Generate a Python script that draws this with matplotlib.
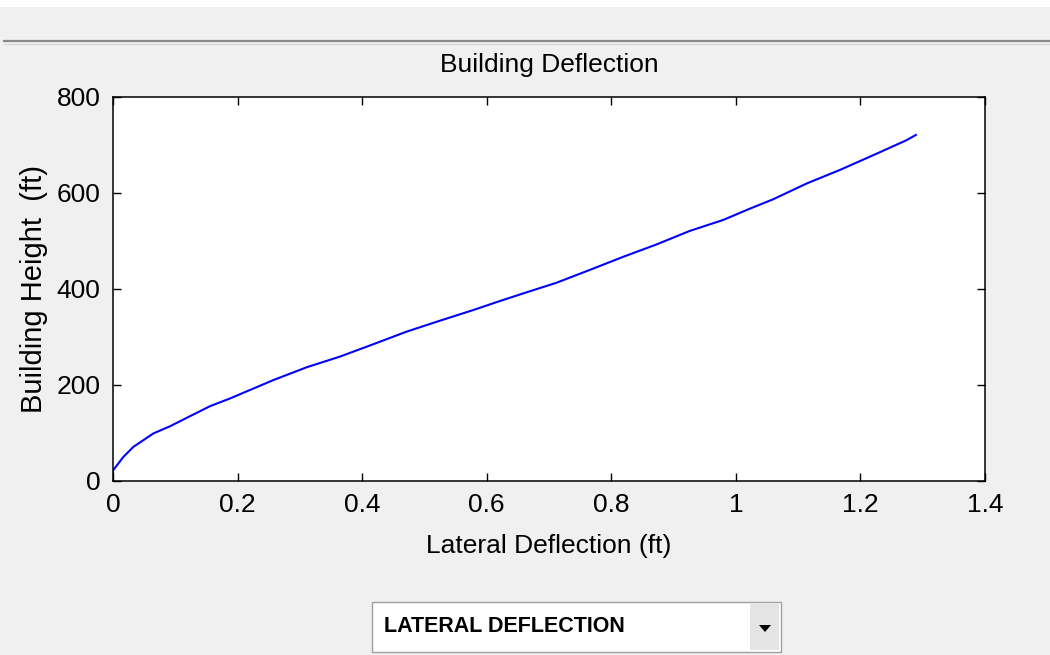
import matplotlib
matplotlib.use('Agg')
import matplotlib.pyplot as plt
from matplotlib.patches import Rectangle, Polygon
from matplotlib.lines import Line2D

# Datos
deflection = [0.0, 0.0, 0.0165, 0.0326, 0.0487, 0.0647, 0.0915, 0.1236, 0.156, 0.188,
              0.217, 0.257, 0.311, 0.364, 0.418, 0.471, 0.525, 0.578, 0.619, 0.659,
              0.712, 0.766, 0.819, 0.873, 0.926, 0.980, 1.020, 1.060, 1.114, 1.167,
              1.221, 1.274, 1.289]
height = [0, 22, 50, 71, 85, 99, 114, 135, 156, 172,
          188, 210, 237, 259, 285, 311, 334, 356, 374, 391,
          413, 440, 467, 493, 521, 544, 566, 587, 620, 648,
          679, 710, 721]
xticks = [0, 0.2, 0.4, 0.6, 0.8, 1, 1.2, 1.4]
xticklabels = ['0', '0.2', '0.4', '0.6', '0.8', '1', '1.2', '1.4']
yticks = [0, 200, 400, 600, 800]

plt.rcParams['font.family'] = ['Liberation Sans', 'DejaVu Sans']

bg = '#f0f0f0'
fig = plt.figure(figsize=(10.5, 6.55), dpi=100, facecolor=bg)

# franja superior y linea separadora
fig.patches.append(Rectangle((0, 1 - 7 / 655), 1, 7 / 655, transform=fig.transFigure,
                             facecolor='white', edgecolor='none'))
fig.lines.append(Line2D([4 / 1050, 1], [1 - 41 / 655] * 2, transform=fig.transFigure,
                        color='#8a8a8a', lw=1.6))
fig.lines.append(Line2D([4 / 1050, 1], [1 - 43.5 / 655] * 2, transform=fig.transFigure,
                        color='#d8d8d8', lw=1.0))

ax = fig.add_axes([113 / 1050, 1 - 481 / 655, 872 / 1050, 384 / 655])
ax.plot(deflection, height, color='#0000ff', lw=1.5)
ax.set_xlim(0, 1.4)
ax.set_ylim(0, 800)
ax.set_xticks(xticks)
ax.set_xticklabels(xticklabels)
ax.set_yticks(yticks)
ax.tick_params(direction='in', length=6, width=1, top=True, right=True,
               labelsize=19, pad=9, colors='black')
for s in ax.spines.values():
    s.set_linewidth(1.1)
ax.set_title('Building Deflection', fontsize=19, pad=18)
ax.set_xlabel('Lateral Deflection (ft)', fontsize=19, labelpad=12)
ax.set_ylabel('Building Height  (ft)', fontsize=21, labelpad=6)

# menu desplegable
fig.patches.append(Rectangle((372 / 1050, 1 - 652 / 655), 409 / 1050, 50 / 655,
                             transform=fig.transFigure, facecolor='white',
                             edgecolor='#a0a0a0', lw=1.0))
fig.patches.append(Rectangle((750 / 1050, 1 - 650 / 655), 29 / 1050, 46 / 655,
                             transform=fig.transFigure, facecolor='#e4e4e4',
                             edgecolor='none'))
fig.patches.append(Polygon([(759 / 1050, 1 - 625 / 655), (771 / 1050, 1 - 625 / 655),
                            (765 / 1050, 1 - 632 / 655)], closed=True,
                           transform=fig.transFigure, facecolor='black', edgecolor='none'))
fig.text(384 / 1050, 1 - 627 / 655, 'LATERAL DEFLECTION', fontsize=15.5, fontweight='bold',
         va='center', ha='left')

fig.savefig('out.png', dpi=100, facecolor=bg)
